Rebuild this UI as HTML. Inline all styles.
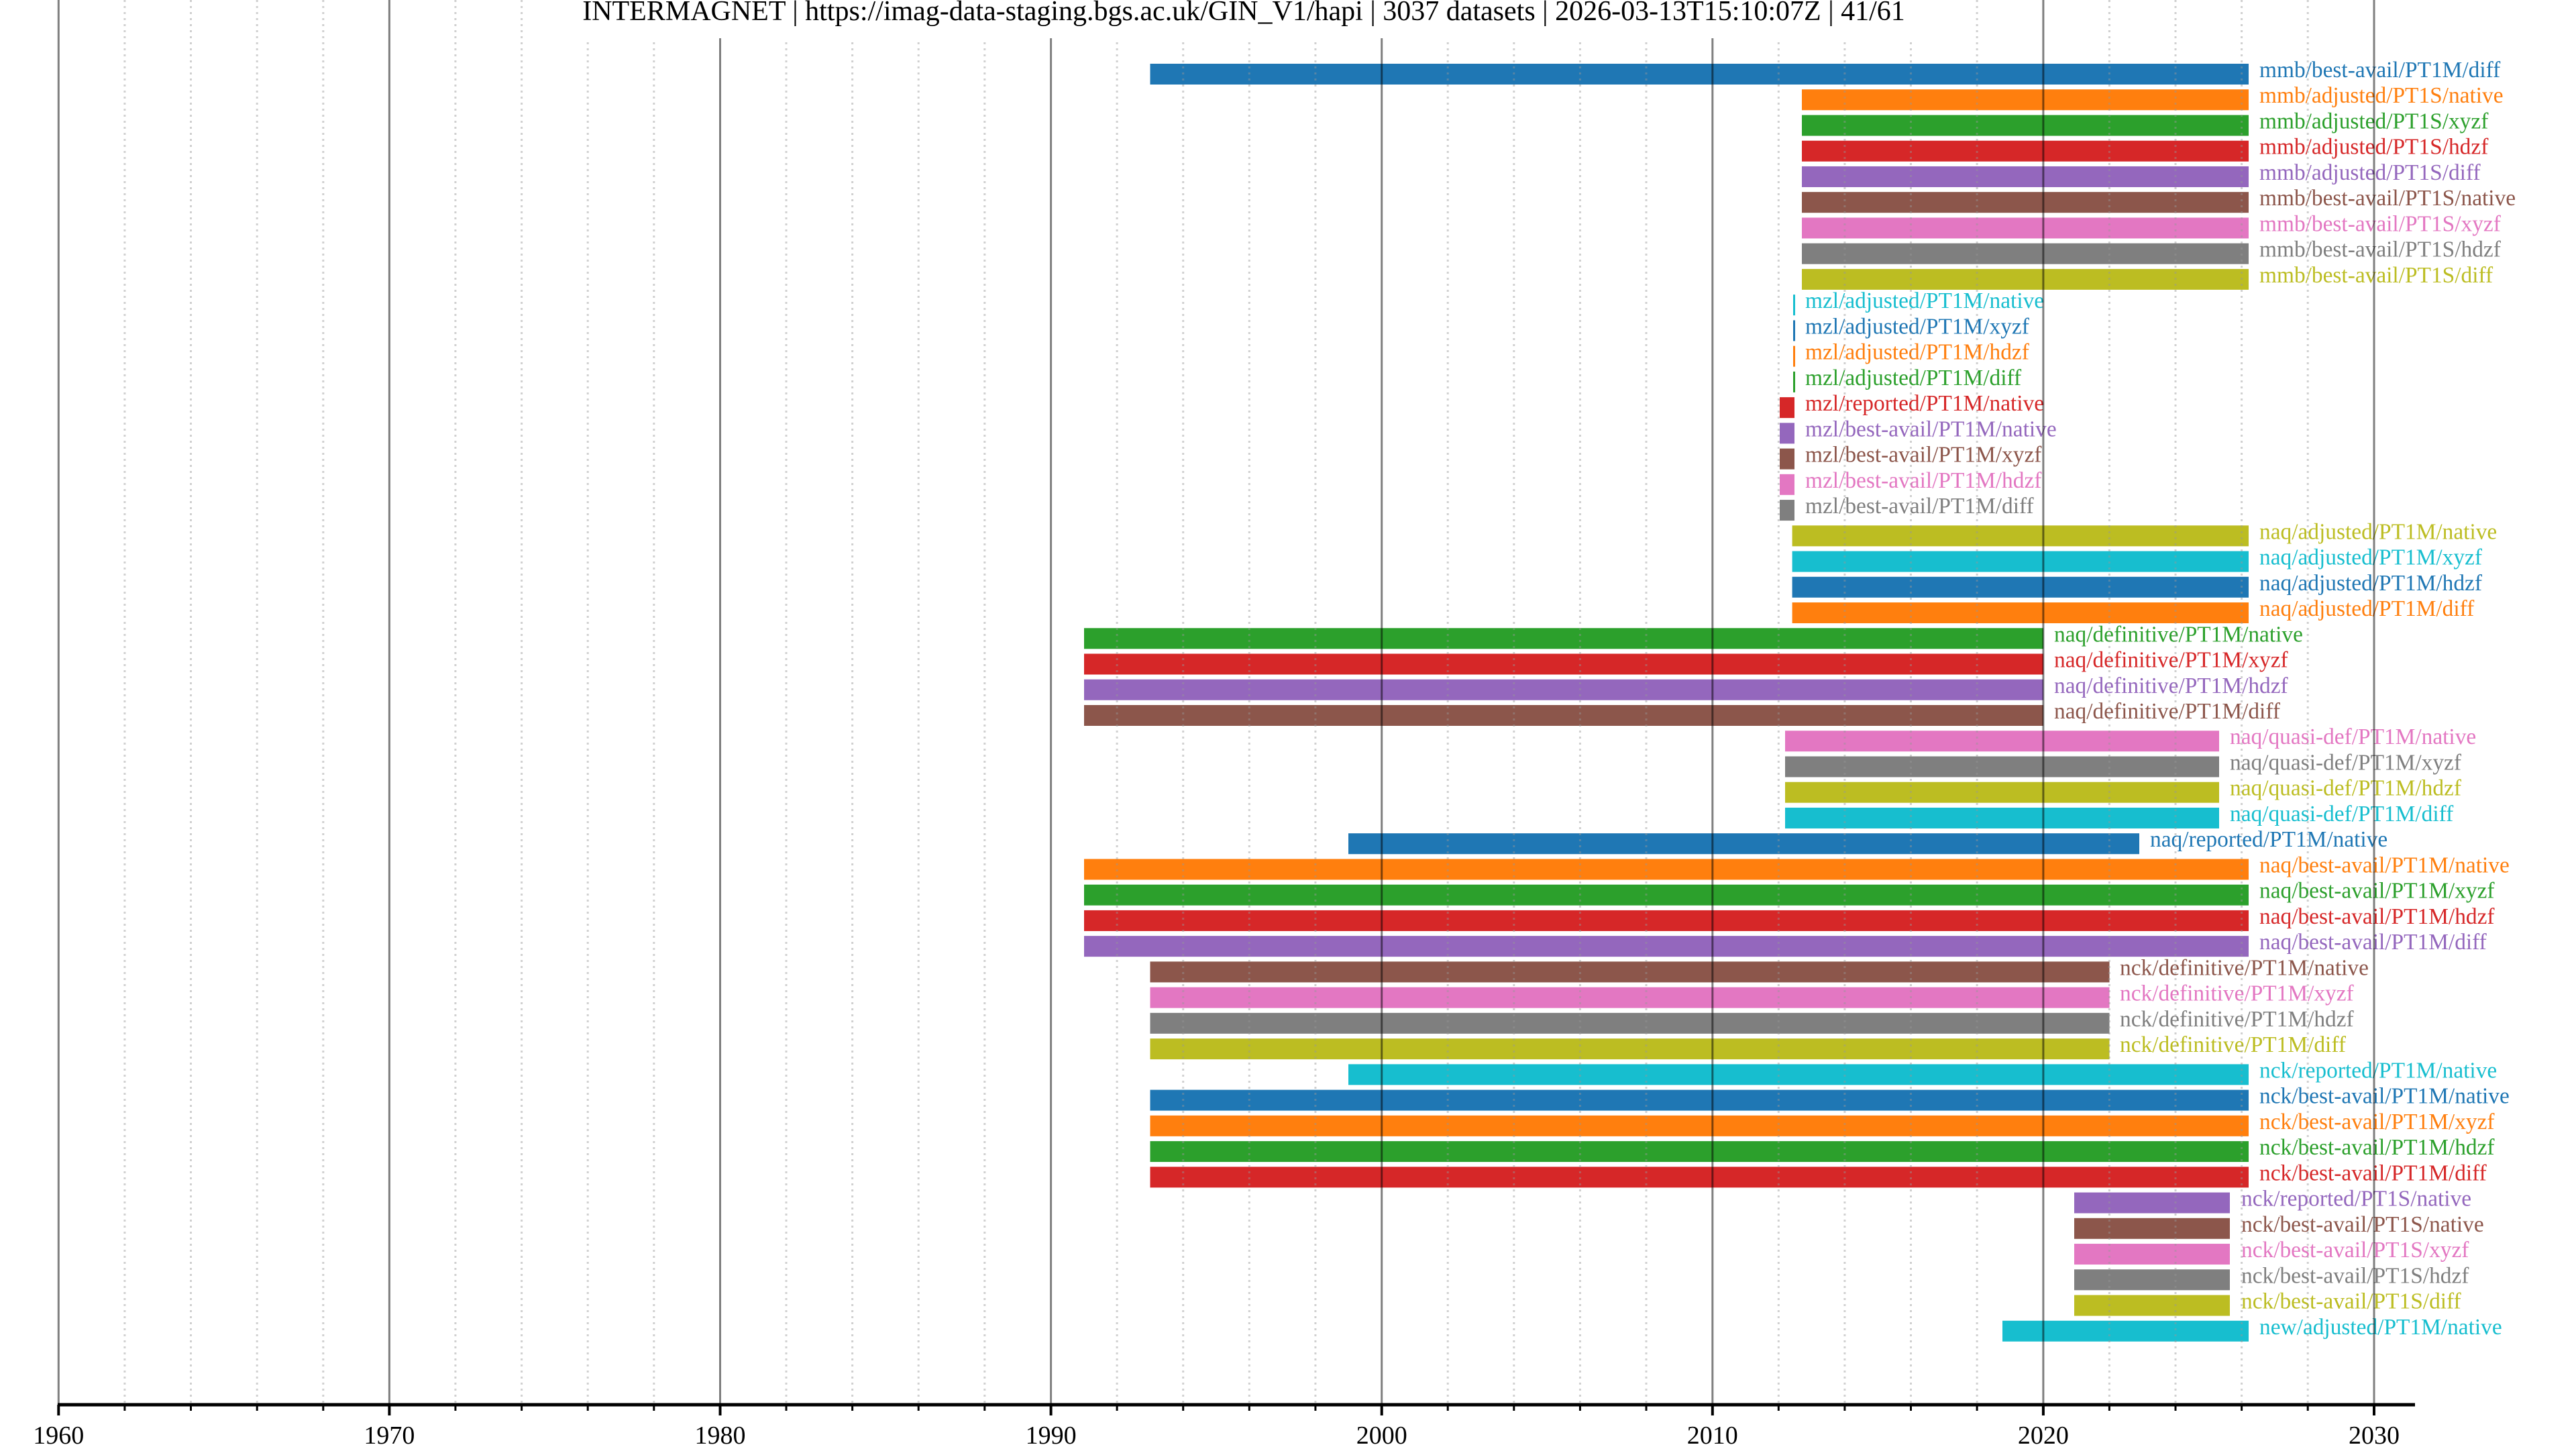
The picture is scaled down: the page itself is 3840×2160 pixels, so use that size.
<!DOCTYPE html>
<html><head><meta charset="utf-8"><style>html,body{margin:0;padding:0;background:#fff}svg{display:block}</style></head>
<body>
<svg width="3840" height="2160" viewBox="0 0 3840 2160" xmlns="http://www.w3.org/2000/svg" font-family="Liberation Serif, serif">
<rect width="3840" height="2160" fill="#fff"/>
<g font-size="33.4">
<g transform="translate(0,95)"><rect x="1714.5" width="1637.5" height="31" fill="#1f77b4"/><text x="3368" y="20" fill="#1f77b4">mmb/best-avail/PT1M/diff</text></g>
<g transform="translate(0,133.24)"><rect x="2686" width="666" height="31" fill="#ff7f0e"/><text x="3368" y="20" fill="#ff7f0e">mmb/adjusted/PT1S/native</text></g>
<g transform="translate(0,171.48)"><rect x="2686" width="666" height="31" fill="#2ca02c"/><text x="3368" y="20" fill="#2ca02c">mmb/adjusted/PT1S/xyzf</text></g>
<g transform="translate(0,209.72)"><rect x="2686" width="666" height="31" fill="#d62728"/><text x="3368" y="20" fill="#d62728">mmb/adjusted/PT1S/hdzf</text></g>
<g transform="translate(0,247.96)"><rect x="2686" width="666" height="31" fill="#9467bd"/><text x="3368" y="20" fill="#9467bd">mmb/adjusted/PT1S/diff</text></g>
<g transform="translate(0,286.2)"><rect x="2686" width="666" height="31" fill="#8c564b"/><text x="3368" y="20" fill="#8c564b">mmb/best-avail/PT1S/native</text></g>
<g transform="translate(0,324.44)"><rect x="2686" width="666" height="31" fill="#e377c2"/><text x="3368" y="20" fill="#e377c2">mmb/best-avail/PT1S/xyzf</text></g>
<g transform="translate(0,362.68)"><rect x="2686" width="666" height="31" fill="#7f7f7f"/><text x="3368" y="20" fill="#7f7f7f">mmb/best-avail/PT1S/hdzf</text></g>
<g transform="translate(0,400.92)"><rect x="2686" width="666" height="31" fill="#bcbd22"/><text x="3368" y="20" fill="#bcbd22">mmb/best-avail/PT1S/diff</text></g>
<g transform="translate(0,439.16)"><rect x="2673" width="3" height="31" fill="#17becf"/><text x="2691" y="20" fill="#17becf">mzl/adjusted/PT1M/native</text></g>
<g transform="translate(0,477.4)"><rect x="2673" width="3" height="31" fill="#1f77b4"/><text x="2691" y="20" fill="#1f77b4">mzl/adjusted/PT1M/xyzf</text></g>
<g transform="translate(0,515.64)"><rect x="2673" width="3" height="31" fill="#ff7f0e"/><text x="2691" y="20" fill="#ff7f0e">mzl/adjusted/PT1M/hdzf</text></g>
<g transform="translate(0,553.88)"><rect x="2673" width="3" height="31" fill="#2ca02c"/><text x="2691" y="20" fill="#2ca02c">mzl/adjusted/PT1M/diff</text></g>
<g transform="translate(0,592.12)"><rect x="2653" width="22" height="31" fill="#d62728"/><text x="2691" y="20" fill="#d62728">mzl/reported/PT1M/native</text></g>
<g transform="translate(0,630.36)"><rect x="2653" width="22" height="31" fill="#9467bd"/><text x="2691" y="20" fill="#9467bd">mzl/best-avail/PT1M/native</text></g>
<g transform="translate(0,668.6)"><rect x="2653" width="22" height="31" fill="#8c564b"/><text x="2691" y="20" fill="#8c564b">mzl/best-avail/PT1M/xyzf</text></g>
<g transform="translate(0,706.84)"><rect x="2653" width="22" height="31" fill="#e377c2"/><text x="2691" y="20" fill="#e377c2">mzl/best-avail/PT1M/hdzf</text></g>
<g transform="translate(0,745.08)"><rect x="2653" width="22" height="31" fill="#7f7f7f"/><text x="2691" y="20" fill="#7f7f7f">mzl/best-avail/PT1M/diff</text></g>
<g transform="translate(0,783.32)"><rect x="2671.6" width="680.4" height="31" fill="#bcbd22"/><text x="3368" y="20" fill="#bcbd22">naq/adjusted/PT1M/native</text></g>
<g transform="translate(0,821.56)"><rect x="2671.6" width="680.4" height="31" fill="#17becf"/><text x="3368" y="20" fill="#17becf">naq/adjusted/PT1M/xyzf</text></g>
<g transform="translate(0,859.8)"><rect x="2671.6" width="680.4" height="31" fill="#1f77b4"/><text x="3368" y="20" fill="#1f77b4">naq/adjusted/PT1M/hdzf</text></g>
<g transform="translate(0,898.04)"><rect x="2671.6" width="680.4" height="31" fill="#ff7f0e"/><text x="3368" y="20" fill="#ff7f0e">naq/adjusted/PT1M/diff</text></g>
<g transform="translate(0,936.28)"><rect x="1616" width="1430" height="31" fill="#2ca02c"/><text x="3062" y="20" fill="#2ca02c">naq/definitive/PT1M/native</text></g>
<g transform="translate(0,974.52)"><rect x="1616" width="1430" height="31" fill="#d62728"/><text x="3062" y="20" fill="#d62728">naq/definitive/PT1M/xyzf</text></g>
<g transform="translate(0,1012.76)"><rect x="1616" width="1430" height="31" fill="#9467bd"/><text x="3062" y="20" fill="#9467bd">naq/definitive/PT1M/hdzf</text></g>
<g transform="translate(0,1051)"><rect x="1616" width="1430" height="31" fill="#8c564b"/><text x="3062" y="20" fill="#8c564b">naq/definitive/PT1M/diff</text></g>
<g transform="translate(0,1089.24)"><rect x="2661" width="647" height="31" fill="#e377c2"/><text x="3324" y="20" fill="#e377c2">naq/quasi-def/PT1M/native</text></g>
<g transform="translate(0,1127.48)"><rect x="2661" width="647" height="31" fill="#7f7f7f"/><text x="3324" y="20" fill="#7f7f7f">naq/quasi-def/PT1M/xyzf</text></g>
<g transform="translate(0,1165.72)"><rect x="2661" width="647" height="31" fill="#bcbd22"/><text x="3324" y="20" fill="#bcbd22">naq/quasi-def/PT1M/hdzf</text></g>
<g transform="translate(0,1203.96)"><rect x="2661" width="647" height="31" fill="#17becf"/><text x="3324" y="20" fill="#17becf">naq/quasi-def/PT1M/diff</text></g>
<g transform="translate(0,1242.2)"><rect x="2010" width="1179" height="31" fill="#1f77b4"/><text x="3205" y="20" fill="#1f77b4">naq/reported/PT1M/native</text></g>
<g transform="translate(0,1280.44)"><rect x="1616" width="1736" height="31" fill="#ff7f0e"/><text x="3368" y="20" fill="#ff7f0e">naq/best-avail/PT1M/native</text></g>
<g transform="translate(0,1318.68)"><rect x="1616" width="1736" height="31" fill="#2ca02c"/><text x="3368" y="20" fill="#2ca02c">naq/best-avail/PT1M/xyzf</text></g>
<g transform="translate(0,1356.92)"><rect x="1616" width="1736" height="31" fill="#d62728"/><text x="3368" y="20" fill="#d62728">naq/best-avail/PT1M/hdzf</text></g>
<g transform="translate(0,1395.16)"><rect x="1616" width="1736" height="31" fill="#9467bd"/><text x="3368" y="20" fill="#9467bd">naq/best-avail/PT1M/diff</text></g>
<g transform="translate(0,1433.4)"><rect x="1714.5" width="1430" height="31" fill="#8c564b"/><text x="3160" y="20" fill="#8c564b">nck/definitive/PT1M/native</text></g>
<g transform="translate(0,1471.64)"><rect x="1714.5" width="1430" height="31" fill="#e377c2"/><text x="3160" y="20" fill="#e377c2">nck/definitive/PT1M/xyzf</text></g>
<g transform="translate(0,1509.88)"><rect x="1714.5" width="1430" height="31" fill="#7f7f7f"/><text x="3160" y="20" fill="#7f7f7f">nck/definitive/PT1M/hdzf</text></g>
<g transform="translate(0,1548.12)"><rect x="1714.5" width="1430" height="31" fill="#bcbd22"/><text x="3160" y="20" fill="#bcbd22">nck/definitive/PT1M/diff</text></g>
<g transform="translate(0,1586.36)"><rect x="2010" width="1342" height="31" fill="#17becf"/><text x="3368" y="20" fill="#17becf">nck/reported/PT1M/native</text></g>
<g transform="translate(0,1624.6)"><rect x="1714.5" width="1637.5" height="31" fill="#1f77b4"/><text x="3368" y="20" fill="#1f77b4">nck/best-avail/PT1M/native</text></g>
<g transform="translate(0,1662.84)"><rect x="1714.5" width="1637.5" height="31" fill="#ff7f0e"/><text x="3368" y="20" fill="#ff7f0e">nck/best-avail/PT1M/xyzf</text></g>
<g transform="translate(0,1701.08)"><rect x="1714.5" width="1637.5" height="31" fill="#2ca02c"/><text x="3368" y="20" fill="#2ca02c">nck/best-avail/PT1M/hdzf</text></g>
<g transform="translate(0,1739.32)"><rect x="1714.5" width="1637.5" height="31" fill="#d62728"/><text x="3368" y="20" fill="#d62728">nck/best-avail/PT1M/diff</text></g>
<g transform="translate(0,1777.56)"><rect x="3092" width="232" height="31" fill="#9467bd"/><text x="3341" y="20" fill="#9467bd">nck/reported/PT1S/native</text></g>
<g transform="translate(0,1815.8)"><rect x="3092" width="232" height="31" fill="#8c564b"/><text x="3341" y="20" fill="#8c564b">nck/best-avail/PT1S/native</text></g>
<g transform="translate(0,1854.04)"><rect x="3092" width="232" height="31" fill="#e377c2"/><text x="3341" y="20" fill="#e377c2">nck/best-avail/PT1S/xyzf</text></g>
<g transform="translate(0,1892.28)"><rect x="3092" width="232" height="31" fill="#7f7f7f"/><text x="3341" y="20" fill="#7f7f7f">nck/best-avail/PT1S/hdzf</text></g>
<g transform="translate(0,1930.52)"><rect x="3092" width="232" height="31" fill="#bcbd22"/><text x="3341" y="20" fill="#bcbd22">nck/best-avail/PT1S/diff</text></g>
<g transform="translate(0,1968.76)"><rect x="2985" width="367" height="31" fill="#17becf"/><text x="3368" y="20" fill="#17becf">new/adjusted/PT1M/native</text></g>
</g>
<!-- minor grid -->
<g stroke="rgba(150,150,150,0.45)" stroke-width="3" stroke-dasharray="3,6">
<path d="M185.9 0V2094M284.5 0V2094M383.2 0V2094M481.8 0V2094M678.9 0V2094M777.6 0V2094M876.2 0V2094M974.8 0V2094M1172 0V2094M1270.6 0V2094M1369.2 0V2094M1467.8 0V2094M1665.1 0V2094M1763.7 0V2094M1862.3 0V2094M1960.9 0V2094M2158.2 0V2094M2256.8 0V2094M2355.4 0V2094M2454 0V2094M2651.3 0V2094M2749.9 0V2094M2848.5 0V2094M2947.1 0V2094M3144.4 0V2094M3243 0V2094M3341.6 0V2094M3440.2 0V2094"/>
</g>
<!-- major grid -->
<g stroke="rgba(0,0,0,0.5)" stroke-width="3">
<path d="M87.3 0V2094M580.4 0V2094M1073.5 0V2094M1566.6 0V2094M2059.7 0V2094M2552.8 0V2094M3045.9 0V2094M3539 0V2094"/>
</g>
<!-- title -->
<rect x="860" y="0" width="2000" height="57" fill="#fff"/>
<text x="1854" y="30" font-size="42" text-anchor="middle" fill="#000">INTERMAGNET | https://imag-data-staging.bgs.ac.uk/GIN_V1/hapi | 3037 datasets | 2026-03-13T15:10:07Z | 41/61</text>
<!-- axis -->
<line x1="86" y1="2094" x2="3600" y2="2094" stroke="#000" stroke-width="5"/>
<g stroke="#000" stroke-width="4">
<path d="M87.3 2094v16M580.4 2094v16M1073.5 2094v16M1566.6 2094v16M2059.7 2094v16M2552.8 2094v16M3045.9 2094v16M3539 2094v16"/>
</g>
<g stroke="#000" stroke-width="3">
<path d="M185.9 2094v9M284.5 2094v9M383.2 2094v9M481.8 2094v9M678.9 2094v9M777.6 2094v9M876.2 2094v9M974.8 2094v9M1172 2094v9M1270.6 2094v9M1369.2 2094v9M1467.8 2094v9M1665.1 2094v9M1763.7 2094v9M1862.3 2094v9M1960.9 2094v9M2158.2 2094v9M2256.8 2094v9M2355.4 2094v9M2454 2094v9M2651.3 2094v9M2749.9 2094v9M2848.5 2094v9M2947.1 2094v9M3144.4 2094v9M3243 2094v9M3341.6 2094v9M3440.2 2094v9"/>
</g>
<g font-size="38" text-anchor="middle" fill="#000">
<text x="87.3" y="2152">1960</text><text x="580.4" y="2152">1970</text><text x="1073.5" y="2152">1980</text><text x="1566.6" y="2152">1990</text><text x="2059.7" y="2152">2000</text><text x="2552.8" y="2152">2010</text><text x="3045.9" y="2152">2020</text><text x="3539" y="2152">2030</text>
</g>
</svg>
</body></html>
